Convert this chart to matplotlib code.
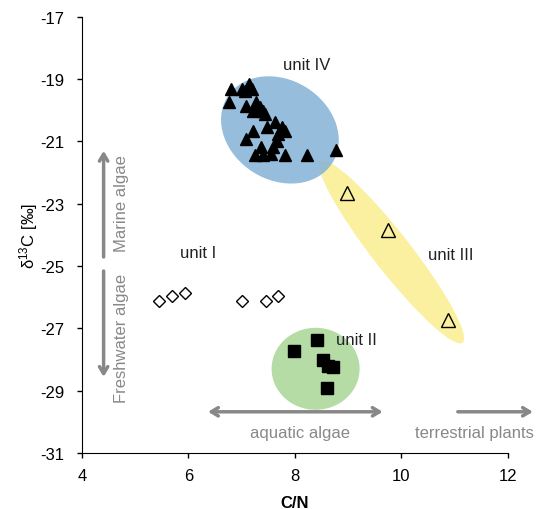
import matplotlib
matplotlib.use("Agg")
import matplotlib.pyplot as plt
import matplotlib.transforms as mtransforms
from matplotlib.patches import Ellipse

plt.rcParams['font.family'] = ['Liberation Sans', 'DejaVu Sans']
plt.rcParams['mathtext.fontset'] = 'custom'
plt.rcParams['mathtext.rm'] = 'Liberation Sans'
plt.rcParams['mathtext.it'] = 'Liberation Sans'

# unit IV (filled triangles)
u4_cn = [6.81, 7.00, 7.14, 7.06, 7.19, 6.76, 7.09, 7.28, 7.21, 7.34, 7.40, 7.44,
         7.62, 7.75, 7.22, 7.47, 7.68, 7.81, 7.09, 7.66, 7.37, 7.59, 7.25, 7.40,
         7.56, 7.81, 8.22, 8.78]
u4_d13c = [-19.31, -19.31, -19.15, -19.37, -19.31, -19.73, -19.85, -19.73, -20.01,
           -19.89, -20.01, -20.11, -20.37, -20.53, -20.65, -20.53, -20.76, -20.65,
           -20.92, -20.97, -21.17, -21.17, -21.45, -21.45, -21.40, -21.45, -21.45,
           -21.29]

# unit III (open triangles)
u3_cn = [8.98, 9.75, 10.87]
u3_d13c = [-22.65, -23.83, -26.72]

# unit I (open diamonds)
u1_cn = [5.45, 5.70, 5.93, 7.00, 7.46, 7.69]
u1_d13c = [-26.11, -25.95, -25.86, -26.11, -26.11, -25.95]

# unit II (filled squares)
u2_cn = [7.98, 8.42, 8.52, 8.63, 8.72, 8.60]
u2_d13c = [-27.74, -27.36, -28.01, -28.22, -28.25, -28.91]

fs = 12

fig = plt.figure(figsize=(5.38, 5.10), dpi=100)
ax = fig.add_axes([0.152, 0.110, 0.792, 0.855])
ax.set_xlim(4, 12)
ax.set_ylim(-31, -17)


def blob(cx, cy, w, h, ang, color, z, alpha=1.0):
    # ellipse sized in inches, centred on a data point
    tr = fig.dpi_scale_trans + mtransforms.ScaledTranslation(cx, cy, ax.transData)
    ax.add_patch(Ellipse((0, 0), w, h, angle=ang, transform=tr,
                         facecolor=color, edgecolor='none', zorder=z, alpha=alpha))


blob(9.82, -24.55, 2.30, 0.38, -52, '#faf0a0', 1)
blob(7.72, -20.63, 1.24, 1.00, -32, '#84b2d6', 2, alpha=0.85)
blob(8.39, -28.30, 0.88, 0.82, 0, '#b5dca5', 1)

ax.plot(u4_cn, u4_d13c, '^', color='black', ms=9, ls='none', zorder=5)
ax.plot(u3_cn, u3_d13c, '^', mfc='none', mec='black', ms=10, mew=1, ls='none', zorder=5)
ax.plot(u1_cn, u1_d13c, 'D', mfc='none', mec='black', ms=6.5, mew=1, ls='none', zorder=5)
ax.plot(u2_cn, u2_d13c, 's', color='black', ms=8.5, ls='none', zorder=5)

tc = '#222222'
ax.text(8.23, -18.54, 'unit IV', ha='center', va='center', fontsize=fs, color=tc)
ax.text(6.18, -24.58, 'unit I', ha='center', va='center', fontsize=fs, color=tc)
ax.text(9.16, -27.37, 'unit II', ha='center', va='center', fontsize=fs, color=tc, zorder=6)
ax.text(10.93, -24.64, 'unit III', ha='center', va='center', fontsize=fs, color=tc)

gray = '#888888'
aprops = dict(arrowstyle='->,head_length=0.5,head_width=0.3', color=gray, lw=2.5,
              shrinkA=0, shrinkB=0)
ax.annotate('', xy=(4.41, -21.30), xytext=(4.41, -24.71), arrowprops=aprops)
ax.annotate('', xy=(4.41, -28.56), xytext=(4.41, -25.16), arrowprops=aprops)
ax.annotate('', xy=(9.65, -29.68), xytext=(6.37, -29.68),
            arrowprops=dict(aprops, arrowstyle='<->,head_length=0.5,head_width=0.3'))
ax.annotate('', xy=(12.47, -29.68), xytext=(11.06, -29.68), arrowprops=aprops,
            annotation_clip=False)

ax.text(4.75, -22.97, 'Marine algae', rotation=90, ha='center', va='center',
        fontsize=fs, color=gray)
ax.text(4.75, -27.28, 'Freshwater algae', rotation=90, ha='center', va='center',
        fontsize=fs, color=gray)
ax.text(8.1, -30.33, 'aquatic algae', ha='center', va='center', fontsize=fs, color=gray)
ax.text(11.38, -30.33, 'terrestrial plants', ha='center', va='center', fontsize=fs,
        color=gray, clip_on=False)

ax.set_xticks([4, 6, 8, 10, 12])
ax.set_yticks([-31, -29, -27, -25, -23, -21, -19, -17])
ax.set_yticklabels(['-31', '-29', '-27', '-25', '-23', '-21', '-19', '-17'])
ax.tick_params(labelsize=fs, length=3.6, width=1, direction='out')
ax.tick_params(axis='y', pad=9)
ax.tick_params(axis='x', pad=7)
for s in ['top', 'right']:
    ax.spines[s].set_visible(False)

ax.set_xlabel('C/N', fontsize=fs, fontweight='bold', labelpad=9)
ax.set_ylabel('δ$^{13}$C [‰]', fontsize=fs, labelpad=0)

fig.savefig('out.png', dpi=100)
